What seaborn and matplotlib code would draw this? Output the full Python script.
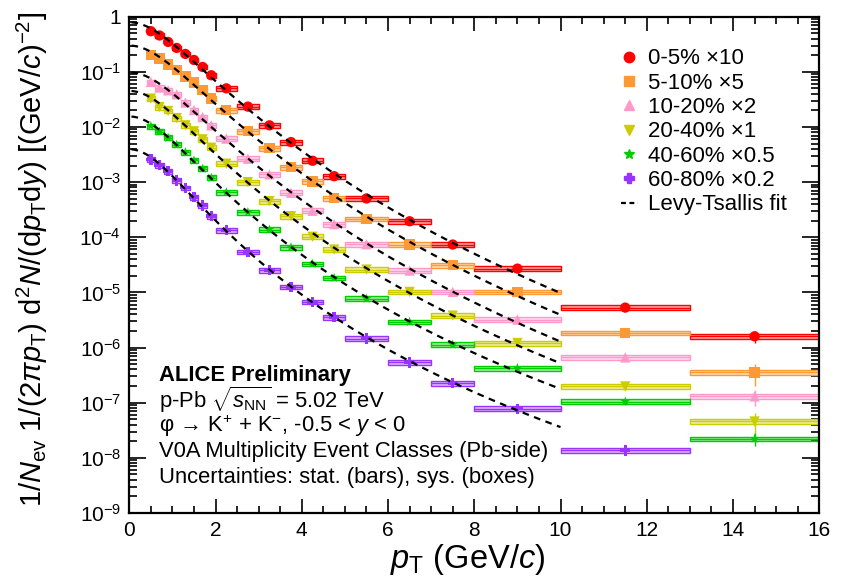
import numpy as np
import pandas as pd
import matplotlib
matplotlib.use("Agg")
import matplotlib.pyplot as plt
import seaborn as sns
from matplotlib.patches import Rectangle
from matplotlib.lines import Line2D
from matplotlib.ticker import LogLocator, FuncFormatter, MultipleLocator, NullFormatter

# pT bins (GeV/c)
pt_edges = [0.4, 0.6, 0.8, 1.0, 1.2, 1.4, 1.6, 1.8, 2.0, 2.5, 3.0, 3.5, 4.0,
            4.5, 5.0, 6.0, 7.0, 8.0, 10.0, 13.0, 16.0]

# spectra as plotted (already scaled)
y_0_5 = [0.546, 0.456, 0.348, 0.271, 0.211, 0.164, 0.1225, 0.0867, 0.0502, 0.0234,
         0.0107, 5.32e-3, 2.44e-3, 1.28e-3, 5.05e-4, 1.95e-4, 7.38e-5, 2.70e-5,
         5.30e-6, 1.60e-6]
y_5_10 = [0.200, 0.174, 0.1355, 0.108, 0.0818, 0.0637, 0.0462, 0.0327, 0.0203,
          8.43e-3, 4.14e-3, 1.87e-3, 1.03e-3, 5.12e-4, 2.16e-4, 7.38e-5, 3.10e-5,
          1.02e-5, 1.84e-6, 3.54e-7]
y_10_20 = [0.0655, 0.0518, 0.0462, 0.0391, 0.0277, 0.0203, 0.0151, 0.0107, 6.14e-3,
           2.66e-3, 1.38e-3, 6.41e-4, 3.02e-4, 1.73e-4, 7.48e-5, 2.49e-5, 1.02e-5,
           3.21e-6, 6.62e-7, 1.30e-7]
y_20_40 = [0.0327, 0.0230, 0.0195, 0.0145, 0.0107, 8.32e-3, 5.96e-3, 4.21e-3,
           2.16e-3, 1.00e-3, 4.52e-4, 2.41e-4, 1.02e-4, 5.98e-5, 2.59e-5, 1.02e-5,
           3.79e-6, 1.21e-6, 1.97e-7, 4.56e-8]
y_40_60 = [0.0104, 8.22e-3, 6.40e-3, 4.78e-3, 3.50e-3, 2.48e-3, 1.75e-3, 1.20e-3,
           6.58e-4, 2.85e-4, 1.38e-4, 6.59e-5, 3.30e-5, 1.83e-5, 7.71e-6, 2.91e-6,
           1.13e-6, 4.26e-7, 1.05e-7, 2.21e-8]
y_60_80 = [2.58e-3, 2.03e-3, 1.58e-3, 1.07e-3, 7.89e-4, 5.33e-4, 3.77e-4, 2.41e-4,
           1.34e-4, 5.45e-5, 2.52e-5, 1.26e-5, 6.71e-6, 3.53e-6, 1.45e-6, 5.38e-7,
           2.27e-7, 7.76e-8, 1.36e-8]

labels = ["0-5% ×10", "5-10% ×5", "10-20% ×2", "20-40% ×1", "40-60% ×0.5", "60-80% ×0.2"]
colors = ["#ff0000", "#ff9933", "#ff99cc", "#cccc00", "#00cc00", "#9933ff"]
markers = ["o", "s", "^", "v", "*", "P"]

# relative uncertainties
stat_low = 0.03
stat_9 = 0.06
stat_115 = [0.15, 0.15, 0.15, 0.15, 0.13, 0.18]
stat_145 = [0.23, 0.43, 0.32, 0.40, 0.25, 0.0]
sys_rel = 0.10

series = [y_0_5, y_5_10, y_10_20, y_20_40, y_40_60, y_60_80]
edges = np.array(pt_edges)
centers = 0.5 * (edges[1:] + edges[:-1])
half = 0.5 * (edges[1:] - edges[:-1])

rows = []
for lab, vals in zip(labels, series):
    for c, v in zip(centers, vals):
        rows.append({"cls": lab, "pt": c, "val": v})
df = pd.DataFrame(rows)

# Levy-Tsallis fit (phi mass), simple grid search in log space, pT < 10
m_phi = 1.019455
T_grid = np.arange(0.05, 0.8, 0.004)
n_grid = np.arange(2.6, 40, 0.1)
TT, NN = np.meshgrid(T_grid, n_grid, indexing="ij")


def levy_shape(pt, T, n):
    mt = np.sqrt(pt ** 2 + m_phi ** 2)
    return (1 + (mt - m_phi) / (n * T)) ** (-n)


sns.set_theme(style="ticks")
plt.rcParams["font.family"] = ["Liberation Sans", "DejaVu Sans"]
plt.rcParams["mathtext.fontset"] = "custom"
plt.rcParams["mathtext.rm"] = "Liberation Sans"
plt.rcParams["mathtext.it"] = "Liberation Sans:italic"
plt.rcParams["mathtext.bf"] = "Liberation Sans:bold"
for key in ["text.color", "axes.labelcolor", "xtick.color", "ytick.color", "axes.edgecolor"]:
    plt.rcParams[key] = "black"

fig = plt.figure(figsize=(8.44, 5.87), dpi=100)
ax = fig.add_axes([0.1532, 0.1261, 0.8175, 0.8455])
ax.set_yscale("log")

for i, vals in enumerate(series):
    vals = np.array(vals)
    n = len(vals)
    col = colors[i]
    for j in range(n):
        lo, hi = vals[j] * (1 - sys_rel), vals[j] * (1 + sys_rel)
        ax.add_patch(Rectangle((edges[j], lo), edges[j + 1] - edges[j], hi - lo,
                               facecolor=col, alpha=0.35, edgecolor="none", zorder=2))
        ax.add_patch(Rectangle((edges[j], lo), edges[j + 1] - edges[j], hi - lo,
                               facecolor="none", edgecolor=col, lw=1.0, zorder=2.1))
    stat = np.full(n, stat_low)
    stat[17] = stat_9
    stat[18] = stat_115[i]
    if n > 19:
        stat[19] = stat_145[i]
    ax.errorbar(centers[:n], vals, xerr=half[:n], yerr=stat * vals, fmt="none",
                ecolor=col, elinewidth=1.0, capsize=0, zorder=2.5)

    # fit
    sel = centers[:n] < 10
    lp = np.log(vals[sel])
    sh = np.log(levy_shape(centers[:n][sel][None, None, :], TT[..., None], NN[..., None]))
    off = (lp - sh).mean(axis=-1)
    res = ((lp - sh - off[..., None]) ** 2).sum(axis=-1)
    k = np.unravel_index(np.argmin(res), res.shape)
    xf = np.linspace(0.05, 10, 300)
    yf = np.exp(off[k]) * levy_shape(xf, TT[k], NN[k])
    ax.plot(xf, yf, color="black", lw=1.6, ls=(0, (3, 2.5)), zorder=5)

sns.scatterplot(data=df, x="pt", y="val", hue="cls", style="cls",
                hue_order=labels, style_order=labels,
                palette=dict(zip(labels, colors)), markers=dict(zip(labels, markers)),
                s=55, linewidth=0, legend=False, ax=ax, zorder=4)

ax.set_xlim(0, 16)
ax.set_ylim(1e-9, 1)
ax.xaxis.set_major_locator(MultipleLocator(2))
ax.xaxis.set_minor_locator(MultipleLocator(0.5))
ax.yaxis.set_major_locator(LogLocator(base=10, numticks=20))
ax.yaxis.set_minor_locator(LogLocator(base=10, subs=np.arange(2, 10), numticks=100))
ax.yaxis.set_minor_formatter(NullFormatter())
ax.yaxis.set_major_formatter(FuncFormatter(
    lambda v, p: "1" if abs(v - 1) < 1e-9 else r"$10^{%d}$" % round(np.log10(v))))

ax.tick_params(which="both", direction="in", top=True, right=True, labelsize=15, width=1.2)
ax.tick_params(axis="x", which="major", length=10, pad=6)
ax.tick_params(axis="x", which="minor", length=5)
ax.tick_params(axis="y", which="major", length=12, pad=6)
ax.tick_params(axis="y", which="minor", length=6)
for sp in ax.spines.values():
    sp.set_linewidth(1.6)

ax.set_xlabel(r"$p_{\rm T}$ (GeV/$c$)", fontsize=23.5)
ax.xaxis.set_label_coords(0.49, -0.058)
ax.set_ylabel(r"$1/N_{\rm ev}$ $1/(2\pi p_{\rm T})$ d$^{2}N/($d$p_{\rm T}$d$y)$ [(GeV/$c$)$^{-2}$]",
              fontsize=21)
ax.yaxis.set_label_coords(-0.115, 0.51)

handles = [Line2D([], [], marker=m, color=c, ls="none", markersize=7.5) for m, c in zip(markers, colors)]
handles.append(Line2D([], [], color="black", lw=1.6, ls=(0, (2.2, 1.6))))
ax.legend(handles, labels + ["Levy-Tsallis fit"], loc="upper left",
          bbox_to_anchor=(0.7126, 0.936), frameon=False, fontsize=16,
          handlelength=0.75, handletextpad=0.45, labelspacing=0.15,
          borderpad=0, borderaxespad=0)

txt = ["ALICE Preliminary",
       r"p-Pb $\sqrt{s_{\rm NN}}$ = 5.02 TeV",
       "φ → K$^{+}$ + K$^{-}$, -0.5 < $y$ < 0",
       "V0A Multiplicity Event Classes (Pb-side)",
       "Uncertainties: stat. (bars), sys. (boxes)"]
ypos = [0.278, 0.228, 0.175, 0.123, 0.0705]
for t, yy in zip(txt, ypos):
    ax.text(0.043, yy, t, transform=ax.transAxes, fontsize=15.8, va="center", ha="left",
            fontweight="bold" if t.startswith("ALICE") else "normal")

fig.savefig("out.png", dpi=100)
